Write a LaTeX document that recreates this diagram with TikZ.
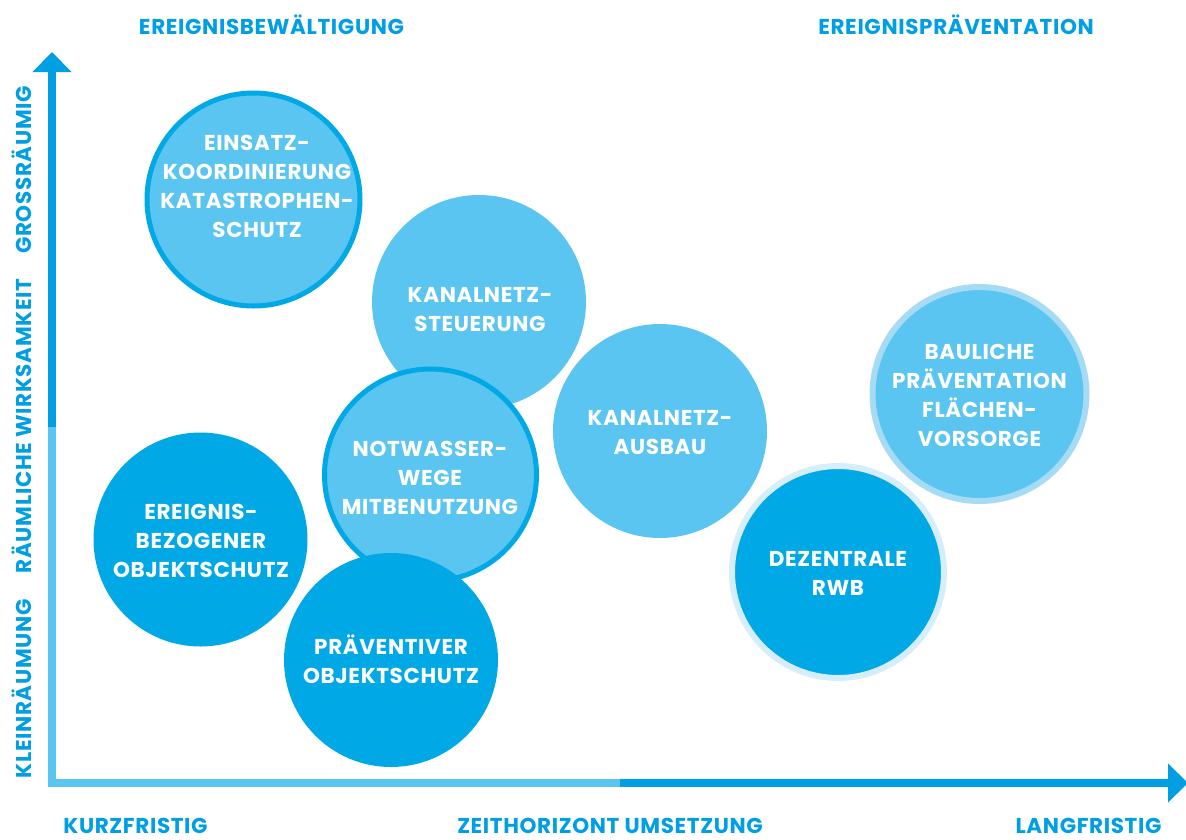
\documentclass[tikz,border=0pt]{standalone}
\usepackage{fontspec}
\setmainfont{Poppins}[LetterSpace=3]
\begin{document}
\definecolor{deepblue}{HTML}{00A9E6}
\definecolor{axisblue}{HTML}{009FE3}
\definecolor{paleblue}{HTML}{5BC5F1}
\definecolor{ringpale}{HTML}{A6DBF5}
\definecolor{ringwhite}{HTML}{D6EEFB}
\begin{tikzpicture}[x=1pt,y=-1pt,
  bubble/.style={circle,inner sep=0pt,minimum size=#1},
  lightbubble/.style={bubble=#1,fill=paleblue},
  darkbubble/.style={bubble=#1,fill=deepblue},
  label/.style={text=white,font=\fontsize{21.5}{29}\selectfont\bfseries,align=center,inner sep=0pt},
  axislabel/.style={text=axisblue,font=\fontsize{21.5}{22}\selectfont\bfseries,inner sep=0pt},
  axisline/.style={line width=8pt},
]
\useasboundingbox (0,0) rectangle (1186,839);

% axes
\coordinate (origin) at (52,783);
\coordinate (ysplit) at (52,427);
\coordinate (ybase) at (52,72);
\coordinate (ytip) at (52,52);
\coordinate (xsplit) at (620,783);
\coordinate (xbase) at (1168,783);
\coordinate (xtip) at (1188,783);
\draw[axisline,paleblue,miter limit=10] (ysplit) -- (origin) -- (xsplit);
\draw[axisline,axisblue] (ysplit) -- (ybase);
\draw[axisline,axisblue] (xsplit) -- (xbase);
\fill[axisblue] (ytip) -- ([xshift=-19.5pt]ybase) -- ([xshift=19.5pt]ybase) -- cycle;
\fill[axisblue] (xtip) -- ([yshift=-19.5pt]xbase) -- ([yshift=19.5pt]xbase) -- cycle;

% axis labels
\node[axislabel] (tl) at (271.5,25) {EREIGNISBEWÄLTIGUNG};
\node[axislabel] (tr) at (956,25) {EREIGNISPRÄVENTATION};
\node[axislabel] (bl) at (135.5,826) {KURZFRISTIG};
\node[axislabel] (bm) at (610,826) {ZEITHORIZONT UMSETZUNG};
\node[axislabel] (br) at (1088.5,826) {LANGFRISTIG};
\node[axislabel,rotate=90] (vl1) at (21.5,170) {GROSSRÄUMIG};
\node[axislabel,rotate=90] (vl2) at (21.5,426) {RÄUMLICHE WIRKSAMKEIT};
\node[axislabel,rotate=90] (vl3) at (21.5,689) {KLEINRÄUMUNG};

% bubbles, back to front
\node[lightbubble=214pt] (steuer) at (479,302) {};
\node[lightbubble=212pt,draw=deepblue,line width=5pt] (notw) at (430.5,475) {};
\node[darkbubble=214pt] (praev) at (391,660) {};
\node[lightbubble=213pt,draw=deepblue,line width=5pt] (einsatz) at (253.5,199.5) {};
\node[lightbubble=214pt] (ausbau) at (660,431) {};
\node[darkbubble=214pt] (ereig) at (200.5,539.5) {};
\node[darkbubble=212pt,draw=ringwhite,line width=6pt] (dezent) at (838,572) {};
\node[lightbubble=214pt,draw=ringpale,line width=6pt] (baul) at (979.5,394) {};

% bubble texts
\node[label] (einsatzt) at (257,186.5) {EINSATZ-\\KOORDINIERUNG\\KATASTROPHEN-\\SCHUTZ};
\node[label] (steuert) at (480,309.5) {KANALNETZ-\\STEUERUNG};
\node[label] (notwt) at (430,478) {NOTWASSER-\\WEGE\\MITBENUTZUNG};
\node[label] (ausbaut) at (660,432.5) {KANALNETZ-\\AUSBAU};
\node[label] (ereigt) at (201,541) {EREIGNIS-\\BEZOGENER\\OBJEKTSCHUTZ};
\node[label] (praevt) at (391,659) {PRÄVENTIVER\\OBJEKTSCHUTZ};
\node[label] (dezentt) at (838,573.5) {DEZENTRALE\\RWB};
\node[label] (bault) at (979.5,395) {BAULICHE\\PRÄVENTATION\\FLÄCHEN-\\VORSORGE};
\end{tikzpicture}
\end{document}
